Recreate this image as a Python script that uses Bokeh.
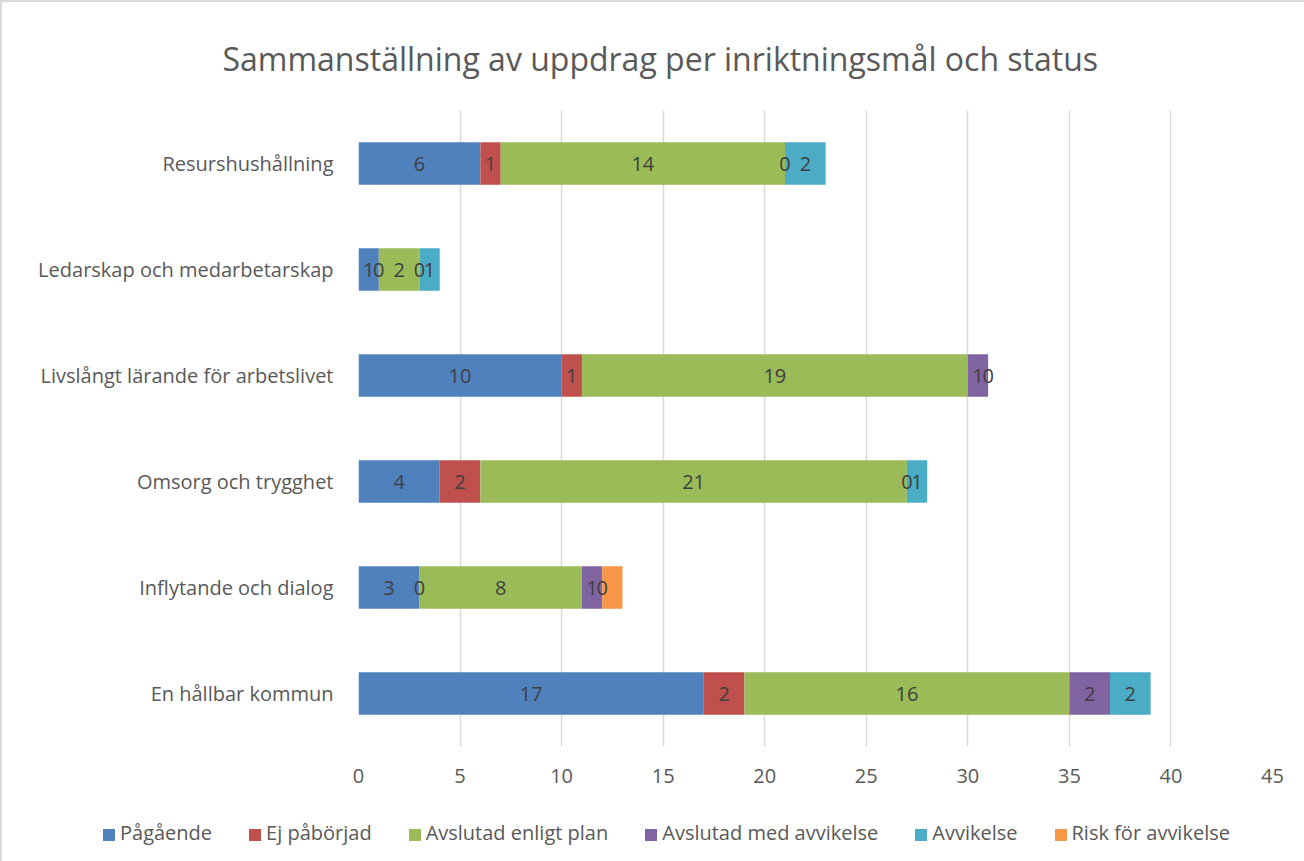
from bokeh.plotting import figure
from bokeh.models import ColumnDataSource, FixedTicker, LabelSet, Range1d, Div
from bokeh.layouts import column
from bokeh.core.properties import value
from bokeh.embed import file_html
from bokeh.resources import INLINE

categories = ["En hållbar kommun", "Inflytande och dialog", "Omsorg och trygghet",
              "Livslångt lärande för arbetslivet", "Ledarskap och medarbetarskap", "Resurshushållning"]
series = ["Pågående", "Ej påbörjad", "Avslutad enligt plan", "Avslutad med avvikelse", "Avvikelse", "Risk för avvikelse"]
pagaende = [17, 3, 4, 10, 1, 6]
ej_paborjad = [2, 0, 2, 1, 0, 1]
avslutad_enligt_plan = [16, 8, 21, 19, 2, 14]
avslutad_med_avvikelse = [2, 1, 0, 1, 0, 0]
avvikelse = [2, 0, 1, 0, 1, 2]
risk_for_avvikelse = [0, 1, 0, 0, 0, 0]
colors = ["#4F81BD", "#C0504D", "#9BBB59", "#8064A2", "#4BACC6", "#F79646"]
labelled = [True, True, True, True, True, False]
x_ticks = [0, 5, 10, 15, 20, 25, 30, 35, 40, 45]

values = [pagaende, ej_paborjad, avslutad_enligt_plan, avslutad_med_avvikelse, avvikelse, risk_for_avvikelse]
keys = ["s%d" % i for i in range(len(series))]
data = {"cat": categories}
for k, v in zip(keys, values):
    data[k] = v
source = ColumnDataSource(data)

FONT = "Open Sans"
GRAY = "#595959"

p = figure(frame_width=914, frame_height=636, y_range=categories, x_range=Range1d(0, 45),
           output_backend="svg", toolbar_location=None,
           title="Sammanställning av uppdrag per inriktningsmål och status",
           min_border_left=356, min_border_right=26, min_border_top=108, min_border_bottom=66)

renderers = p.hbar_stack(keys, y="cat", height=0.4, color=colors, source=source, line_color=None)

# data labels
cum = [0] * len(categories)
for k, v, lab in zip(keys, values, labelled):
    centers = [c + x / 2 for c, x in zip(cum, v)]
    cum = [c + x for c, x in zip(cum, v)]
    if not lab:
        continue
    ls = LabelSet(x="x", y="cat", text="t",
                  source=ColumnDataSource(dict(x=centers, cat=categories, t=[str(x) for x in v])),
                  text_align="center", text_baseline="middle", text_font=value(FONT),
                  text_font_size="20px", text_color="#404040")
    p.add_layout(ls)

p.title.align = "left"
p.title.offset = -136
p.title.text_font = FONT
p.title.text_font_size = "32px"
p.title.text_font_style = "normal"
p.title.text_color = GRAY
p.title.standoff = 62

p.xaxis.ticker = FixedTicker(ticks=x_ticks)
p.xaxis.axis_line_color = None
p.xaxis.major_tick_line_color = None
p.xaxis.minor_tick_line_color = None
p.xaxis.major_label_text_font = FONT
p.xaxis.major_label_text_font_size = "20px"
p.xaxis.major_label_text_color = GRAY
p.xaxis.major_label_standoff = 16

p.yaxis.axis_line_color = None
p.yaxis.major_tick_line_color = None
p.yaxis.minor_tick_line_color = None
p.yaxis.major_label_text_font = FONT
p.yaxis.major_label_text_font_size = "20px"
p.yaxis.major_label_text_color = GRAY
p.yaxis.major_label_standoff = 19

p.ygrid.grid_line_color = None
p.xgrid.grid_line_color = "#d9d9d9"
p.xgrid.grid_line_width = 1.5
p.outline_line_color = None

# legend as an HTML strip below the chart
items_html = "".join(
    '<span style="display:inline-block;margin-right:37px;white-space:nowrap;">'
    '<span style="display:inline-block;width:12px;height:12px;background:%s;margin-right:5px;vertical-align:-1px;"></span>%s</span>'
    % (c, s) for s, c in zip(series, colors))
leg = Div(text='<div style="font-family:\'Open Sans\';font-size:20px;color:%s;line-height:32px;'
               'white-space:nowrap;padding-left:96px;">%s</div>' % (GRAY, items_html),
          width=1296, height=45)

layout = column(p, leg, spacing=0)
layout.styles = {"border-left": "2px solid #d9d9d9", "border-top": "2px solid #d9d9d9"}

open("out.html", "w").write(file_html(layout, INLINE))
